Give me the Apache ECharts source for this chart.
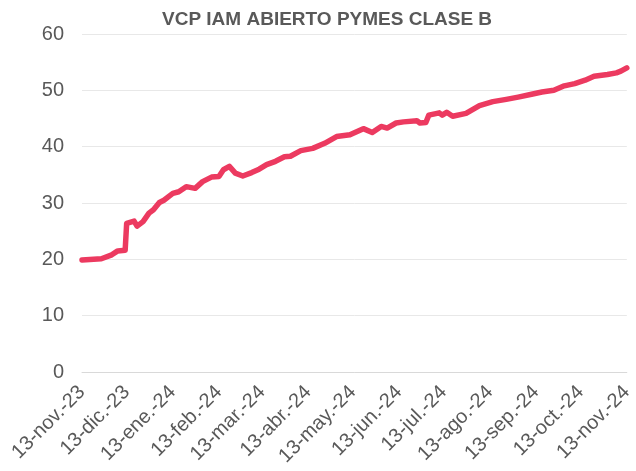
<!DOCTYPE html>
<html>
<head>
<meta charset="utf-8">
<title>VCP IAM ABIERTO PYMES CLASE B</title>
<script src="https://cdn.jsdelivr.net/npm/echarts@6/dist/echarts.min.js"></script>
<style>
	html, body { margin: 0; padding: 0; background: #fff; }
	#chart { width: 636px; height: 471px; }
</style>
</head>
<body>
<div id="chart"></div>
<script>
// fechas y valores
var fechas = [
	'2023-11-13', '2023-11-26', '2023-12-03', '2023-12-07', '2023-12-12', '2023-12-13',
	'2023-12-18', '2023-12-20', '2023-12-24', '2023-12-28', '2023-12-31', '2024-01-04',
	'2024-01-07', '2024-01-13', '2024-01-17', '2024-01-22', '2024-01-28', '2024-02-02',
	'2024-02-08', '2024-02-13', '2024-02-16', '2024-02-20', '2024-02-24', '2024-02-29',
	'2024-03-06', '2024-03-11', '2024-03-16', '2024-03-22', '2024-03-28', '2024-04-01',
	'2024-04-08', '2024-04-16', '2024-04-24', '2024-05-02', '2024-05-11', '2024-05-20',
	'2024-05-26', '2024-06-01', '2024-06-05', '2024-06-11', '2024-06-16', '2024-06-25',
	'2024-06-27', '2024-07-01', '2024-07-03', '2024-07-10', '2024-07-12', '2024-07-15',
	'2024-07-19', '2024-07-28', '2024-08-06', '2024-08-15', '2024-08-24', '2024-09-01',
	'2024-09-10', '2024-09-17', '2024-09-25', '2024-10-02', '2024-10-09', '2024-10-16',
	'2024-10-22', '2024-10-31', '2024-11-06', '2024-11-09', '2024-11-13'
];
var valores = [
	19.9, 20.1, 20.8, 21.5, 21.6, 26.4,
	26.8, 25.9, 26.7, 28.2, 28.8, 30.1,
	30.5, 31.7, 32.0, 32.9, 32.6, 33.8,
	34.6, 34.7, 35.9, 36.5, 35.3, 34.8,
	35.4, 36.0, 36.8, 37.4, 38.2, 38.3,
	39.3, 39.7, 40.6, 41.8, 42.1, 43.2,
	42.5, 43.6, 43.3, 44.2, 44.4, 44.6,
	44.2, 44.3, 45.6, 46.0, 45.6, 46.1,
	45.4, 45.9, 47.3, 48.0, 48.4, 48.8,
	49.3, 49.7, 50.0, 50.8, 51.2, 51.8,
	52.5, 52.8, 53.1, 53.4, 54.0
];
var fechasEje = [
	'2023-11-13', '2023-12-13', '2024-01-13', '2024-02-13', '2024-03-13', '2024-04-13', '2024-05-13',
	'2024-06-13', '2024-07-13', '2024-08-13', '2024-09-13', '2024-10-13', '2024-11-13'
];
var etiquetasEje = [
	'13-nov.-23', '13-dic.-23', '13-ene.-24', '13-feb.-24', '13-mar.-24', '13-abr.-24', '13-may.-24',
	'13-jun.-24', '13-jul.-24', '13-ago.-24', '13-sep.-24', '13-oct.-24', '13-nov.-24'
];

var fuente = 'Arial, "Liberation Sans", sans-serif';
var gris = '#595959';

function ts(s) {
	return echarts.number.parseDate(s).getTime();
}

var ticks = fechasEje.map(ts);
var serie = [];
for (var i = 0; i < fechas.length; i++) {
	serie.push([ts(fechas[i]), valores[i]]);
}

var myChart = echarts.init(document.getElementById('chart'));

var option = {
	animation: false,
	title: {
		text: 'VCP IAM ABIERTO PYMES CLASE B',
		left: 157,
		top: 5,
		textStyle: {
			fontFamily: fuente,
			fontSize: 19,
			fontWeight: 'bold',
			color: gris
		}
	},
	grid: {
		left: 82,
		right: 3,
		top: 34,
		bottom: 99,
		containLabel: false
	},
	xAxis: {
		type: 'value',
		min: ticks[0],
		max: ticks[ticks.length - 1],
		axisLine: {
			lineStyle: { color: '#d9d9d9', width: 1 }
		},
		axisTick: { show: false },
		splitLine: { show: false },
		axisLabel: {
			customValues: ticks,
			rotate: 45,
			margin: 17,
			fontFamily: fuente,
			fontSize: 20,
			color: gris,
			formatter: function (v) {
				var idx = ticks.indexOf(v);
				return idx >= 0 ? etiquetasEje[idx] : '';
			}
		}
	},
	yAxis: {
		type: 'value',
		min: 0,
		max: 60,
		interval: 10,
		axisLine: { show: false },
		axisTick: { show: false },
		splitLine: {
			lineStyle: { color: '#e8e8e8', width: 1 }
		},
		axisLabel: {
			margin: 18,
			fontFamily: fuente,
			fontSize: 20,
			color: gris
		}
	},
	series: [
		{
			name: 'VCP',
			type: 'line',
			data: serie,
			symbol: 'none',
			smooth: false,
			lineStyle: {
				color: '#ec3a60',
				width: 5.5,
				cap: 'round',
				join: 'round'
			}
		}
	]
};

myChart.setOption(option, true);
</script>
</body>
</html>
